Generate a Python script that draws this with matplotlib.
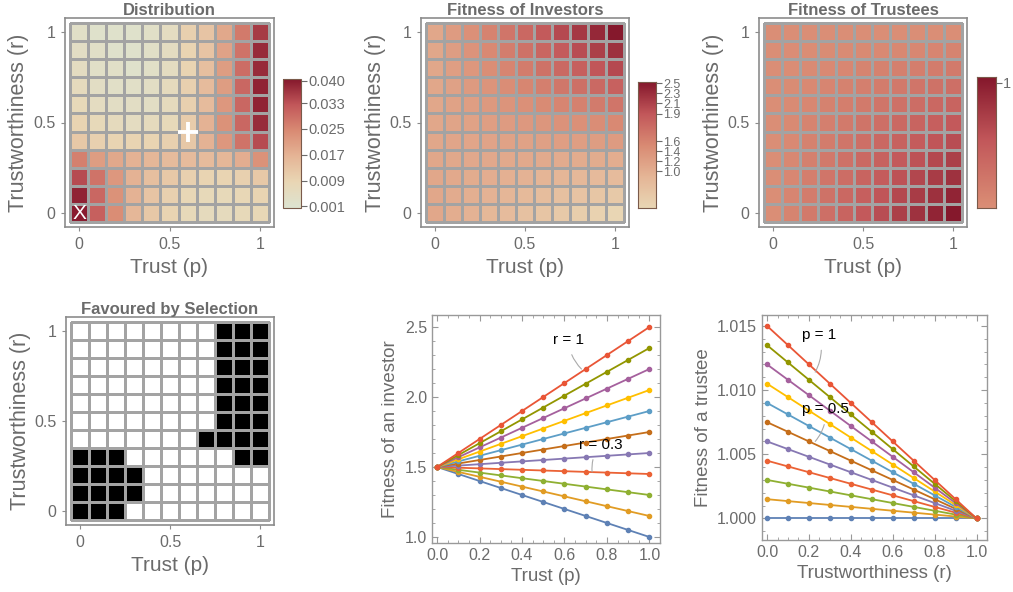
import numpy as np
import matplotlib
matplotlib.use("Agg")
import matplotlib.pyplot as plt
from matplotlib.colors import LinearSegmentedColormap, Normalize, ListedColormap

plt.rcParams['font.family'] = ['Liberation Sans', 'DejaVu Sans']

# grid of strategies
p_vals = [0.0, 0.1, 0.2, 0.3, 0.4, 0.5, 0.6, 0.7, 0.8, 0.9, 1.0]
r_vals = [0.0, 0.1, 0.2, 0.3, 0.4, 0.5, 0.6, 0.7, 0.8, 0.9, 1.0]

# distribution, rows r = 0 .. 1, columns p = 0 .. 1
dist = [
    [0.040, 0.031, 0.024, 0.016, 0.012, 0.009, 0.007, 0.006, 0.006, 0.007, 0.008],
    [0.039, 0.030, 0.023, 0.017, 0.013, 0.010, 0.008, 0.007, 0.007, 0.008, 0.009],
    [0.034, 0.028, 0.022, 0.017, 0.014, 0.012, 0.010, 0.009, 0.009, 0.010, 0.012],
    [0.026, 0.021, 0.019, 0.017, 0.016, 0.015, 0.015, 0.015, 0.016, 0.018, 0.023],
    [0.012, 0.010, 0.009, 0.009, 0.009, 0.010, 0.012, 0.017, 0.022, 0.028, 0.034],
    [0.009, 0.007, 0.006, 0.005, 0.006, 0.007, 0.011, 0.017, 0.023, 0.030, 0.038],
    [0.007, 0.005, 0.004, 0.004, 0.004, 0.006, 0.010, 0.015, 0.022, 0.030, 0.039],
    [0.006, 0.004, 0.003, 0.003, 0.004, 0.006, 0.010, 0.015, 0.021, 0.030, 0.039],
    [0.005, 0.003, 0.003, 0.002, 0.003, 0.005, 0.009, 0.014, 0.021, 0.029, 0.038],
    [0.004, 0.003, 0.002, 0.002, 0.003, 0.005, 0.009, 0.013, 0.020, 0.028, 0.038],
    [0.003, 0.002, 0.002, 0.002, 0.003, 0.005, 0.010, 0.013, 0.019, 0.027, 0.036],
]
dist_ticks = [0.001, 0.009, 0.017, 0.025, 0.033, 0.040]
dist_tick_labels = ['0.001', '0.009', '0.017', '0.025', '0.033', '0.040']
start_point = (0.0, 0.0)      # X
mean_point = (0.6, 0.45)      # +

# favoured by selection, rows r = 0 .. 1, columns p = 0 .. 1
favoured = [
    [1, 1, 1, 0, 0, 0, 0, 0, 0, 0, 0],
    [1, 1, 1, 1, 0, 0, 0, 0, 0, 0, 0],
    [1, 1, 1, 1, 0, 0, 0, 0, 0, 0, 0],
    [1, 1, 1, 0, 0, 0, 0, 0, 0, 1, 1],
    [0, 0, 0, 0, 0, 0, 0, 1, 1, 1, 1],
    [0, 0, 0, 0, 0, 0, 0, 0, 1, 1, 1],
    [0, 0, 0, 0, 0, 0, 0, 0, 1, 1, 1],
    [0, 0, 0, 0, 0, 0, 0, 0, 1, 1, 1],
    [0, 0, 0, 0, 0, 0, 0, 0, 1, 1, 1],
    [0, 0, 0, 0, 0, 0, 0, 0, 1, 1, 1],
    [0, 0, 0, 0, 0, 0, 0, 0, 1, 1, 1],
]

# investor fitness, rows r = 0 .. 1, columns p = 0 .. 1
investor_fit = [
    [1.5, 1.45, 1.4, 1.35, 1.3, 1.25, 1.2, 1.15, 1.1, 1.05, 1.0],
    [1.5, 1.465, 1.43, 1.395, 1.36, 1.325, 1.29, 1.255, 1.22, 1.185, 1.15],
    [1.5, 1.48, 1.46, 1.44, 1.42, 1.4, 1.38, 1.36, 1.34, 1.32, 1.3],
    [1.5, 1.495, 1.49, 1.485, 1.48, 1.475, 1.47, 1.465, 1.46, 1.455, 1.45],
    [1.5, 1.51, 1.52, 1.53, 1.54, 1.55, 1.56, 1.57, 1.58, 1.59, 1.6],
    [1.5, 1.525, 1.55, 1.575, 1.6, 1.625, 1.65, 1.675, 1.7, 1.725, 1.75],
    [1.5, 1.54, 1.58, 1.62, 1.66, 1.7, 1.74, 1.78, 1.82, 1.86, 1.9],
    [1.5, 1.555, 1.61, 1.665, 1.72, 1.775, 1.83, 1.885, 1.94, 1.995, 2.05],
    [1.5, 1.57, 1.64, 1.71, 1.78, 1.85, 1.92, 1.99, 2.06, 2.13, 2.2],
    [1.5, 1.585, 1.67, 1.755, 1.84, 1.925, 2.01, 2.095, 2.18, 2.265, 2.35],
    [1.5, 1.6, 1.7, 1.8, 1.9, 2.0, 2.1, 2.2, 2.3, 2.4, 2.5],
]
inv_cbar_labels = ['1.0', '1.2', '1.4', '1.6', '1.9', '2.1', '2.3', '2.5']
inv_cbar_pos = [0.29, 0.37, 0.45, 0.53, 0.75, 0.83, 0.91, 0.99]

# trustee fitness, rows p = 0 .. 1, columns r = 0 .. 1
trustee_fit = [
    [1.0, 1.0, 1.0, 1.0, 1.0, 1.0, 1.0, 1.0, 1.0, 1.0, 1.0],
    [1.0015, 1.00135, 1.0012, 1.00105, 1.0009, 1.00075, 1.0006, 1.00045, 1.0003, 1.00015, 1.0],
    [1.003, 1.0027, 1.0024, 1.0021, 1.0018, 1.0015, 1.0012, 1.0009, 1.0006, 1.0003, 1.0],
    [1.0045, 1.00405, 1.0036, 1.00315, 1.0027, 1.00225, 1.0018, 1.00135, 1.0009, 1.00045, 1.0],
    [1.006, 1.0054, 1.0048, 1.0042, 1.0036, 1.003, 1.0024, 1.0018, 1.0012, 1.0006, 1.0],
    [1.0075, 1.00675, 1.006, 1.00525, 1.0045, 1.00375, 1.003, 1.00225, 1.0015, 1.00075, 1.0],
    [1.009, 1.0081, 1.0072, 1.0063, 1.0054, 1.0045, 1.0036, 1.0027, 1.0018, 1.0009, 1.0],
    [1.0105, 1.00945, 1.0084, 1.00735, 1.0063, 1.00525, 1.0042, 1.00315, 1.0021, 1.00105, 1.0],
    [1.012, 1.0108, 1.0096, 1.0084, 1.0072, 1.006, 1.0048, 1.0036, 1.0024, 1.0012, 1.0],
    [1.0135, 1.01215, 1.0108, 1.00945, 1.0081, 1.00675, 1.0054, 1.00405, 1.0027, 1.00135, 1.0],
    [1.015, 1.0135, 1.012, 1.0105, 1.009, 1.0075, 1.006, 1.0045, 1.003, 1.0015, 1.0],
]

line_colors = ['#5E81B5', '#E19C24', '#8FB032', '#EB6235', '#8778B3', '#C56E1A',
               '#5D9EC7', '#FFBF00', '#A5609D', '#929600', '#E95536']

GRAY_TXT = '#6b6b6b'
FRAME = '#8c8c8c'
CELL_EDGE = '#a3a3a3'

base_cmap = LinearSegmentedColormap.from_list(
    'dist', ['#dde3d0', '#e9d6b4', '#e5b596', '#d98a73', '#c2575a', '#85182c'])


def sub_cmap(cmap, lo, hi):
    return ListedColormap(cmap(np.linspace(lo, hi, 256)))


inv_cmap = sub_cmap(base_cmap, 0.2, 1.0)
tru_cmap = sub_cmap(base_cmap, 0.58, 1.0)

W, H = 1013, 592
fig = plt.figure(figsize=(W / 100, H / 100), dpi=100)


def fig_axes(x0, y0, x1, y1):
    return fig.add_axes([x0 / W, 1 - y1 / H, (x1 - x0) / W, (y1 - y0) / H])


edges = np.append(np.array(p_vals) - 0.05, 1.05)


def heat_axes(ax, title):
    ax.set_xlim(-0.078, 1.078)
    ax.set_ylim(-0.075, 1.075)
    ax.set_xticks([0, 0.5, 1])
    ax.set_xticklabels(['0', '0.5', '1'])
    ax.set_yticks([0, 0.5, 1])
    ax.set_yticklabels(['0', '0.5', '1'])
    ax.tick_params(length=3, width=0.8, color=FRAME, labelcolor=GRAY_TXT,
                   labelsize=11.5, pad=4)
    for s in ax.spines.values():
        s.set_color(FRAME)
        s.set_linewidth(1.2)
    ax.set_title(title, fontsize=12, fontweight='bold', color=GRAY_TXT, pad=2)
    ax.set_xlabel('Trust (p)', fontsize=15, color=GRAY_TXT)
    ax.set_ylabel('Trustworthiness (r)', fontsize=15.5, color=GRAY_TXT)
    ax.xaxis.set_label_coords(0.5, -0.15)
    ax.yaxis.set_label_coords(-0.17, 0.5)


def manual_cbar(cax, cmap, pos, labels, size):
    grad = np.linspace(0, 1, 256).reshape(-1, 1)
    cax.imshow(grad, extent=[0, 1, 0, 1], origin='lower', aspect='auto', cmap=cmap)
    cax.set_xticks([])
    cax.yaxis.tick_right()
    cax.set_yticks(pos)
    cax.set_yticklabels(labels)
    cax.tick_params(length=4, width=0.8, color=GRAY_TXT, labelcolor=GRAY_TXT,
                    labelsize=size, pad=1)
    for s in cax.spines.values():
        s.set_color('#7a5a4a')
        s.set_linewidth(0.8)


# --- Distribution
ax1 = fig_axes(65, 18, 274, 227)
norm_d = Normalize(0.0005, 0.0405)
m1 = ax1.pcolormesh(edges, edges, np.array(dist), cmap=base_cmap, norm=norm_d,
                    edgecolors=CELL_EDGE, linewidth=1.0)
ax1.text(start_point[0], start_point[1], 'X', color='white', fontsize=15,
         ha='center', va='center')
ax1.plot(mean_point[0], mean_point[1], marker='+', color='white', markersize=14,
         mew=2.8)
heat_axes(ax1, 'Distribution')
cax1 = fig_axes(283, 79, 301, 208)
cb1 = fig.colorbar(m1, cax=cax1, ticks=dist_ticks)
cb1.ax.set_yticklabels(dist_tick_labels)
cb1.ax.tick_params(length=4, width=0.8, color=GRAY_TXT, labelcolor=GRAY_TXT,
                   labelsize=10.5, pad=1)
cb1.outline.set_edgecolor('#7a5a4a')
cb1.outline.set_linewidth(0.8)

# --- Fitness of investors
ax2 = fig_axes(421, 18, 629, 227)
ax2.pcolormesh(edges, edges, np.array(investor_fit), cmap=inv_cmap,
               edgecolors=CELL_EDGE, linewidth=1.0)
heat_axes(ax2, 'Fitness of Investors')
cax2 = fig_axes(638, 82, 656, 208)
manual_cbar(cax2, inv_cmap, inv_cbar_pos, inv_cbar_labels, 9)

# --- Fitness of trustees (x = p, y = r)
ax3 = fig_axes(759, 18, 967, 227)
ax3.pcolormesh(edges, edges, np.array(trustee_fit).T, cmap=tru_cmap,
               edgecolors=CELL_EDGE, linewidth=1.0)
heat_axes(ax3, 'Fitness of Trustees')
cax3 = fig_axes(977, 77, 996, 208)
manual_cbar(cax3, tru_cmap, [0.955], ['1'], 10.5)

# --- Favoured by selection
ax4 = fig_axes(66, 317, 274, 525)
ax4.pcolormesh(edges, edges, np.array(favoured), cmap=ListedColormap(['white', 'black']),
               edgecolors=CELL_EDGE, linewidth=1.0)
heat_axes(ax4, 'Favoured by Selection')


def line_axes(ax):
    ax.set_xlim(-0.024, 1.05)
    ax.set_xticks([0, 0.2, 0.4, 0.6, 0.8, 1.0])
    ax.set_xticks(np.arange(0, 1.01, 0.05), minor=True)
    ax.tick_params(which='both', direction='in', top=True, right=True,
                   color='#999999', labelcolor=GRAY_TXT, labelsize=11.5)
    ax.tick_params(which='major', length=4, width=0.8)
    ax.tick_params(which='minor', length=2, width=0.6)
    for s in ax.spines.values():
        s.set_color('#999999')
        s.set_linewidth(1.0)


# --- Investor lines
ax5 = fig_axes(432, 315, 660, 543)
for i, r in enumerate(r_vals):
    ax5.plot(p_vals, investor_fit[i], color=line_colors[i], lw=1.3,
             marker='o', markersize=3)
line_axes(ax5)
ax5.set_ylim(0.957, 2.586)
ax5.set_yticks([1.0, 1.5, 2.0, 2.5])
ax5.set_yticks(np.arange(1.0, 2.51, 0.1), minor=True)
ax5.set_xlabel('Trust (p)', fontsize=13.5, color=GRAY_TXT, labelpad=4)
ax5.set_ylabel('Fitness of an investor', fontsize=13.5, color=GRAY_TXT, labelpad=4)
ax5.annotate('r = 1', xy=(0.68, 2.2), xytext=(0.62, 2.41), fontsize=11,
             ha='center', va='center',
             arrowprops=dict(arrowstyle='-', color='#aaaaaa', lw=0.8,
                             connectionstyle='arc3,rad=0.2', shrinkA=4, shrinkB=0))
ax5.annotate('r = 0.3', xy=(0.73, 1.465), xytext=(0.77, 1.66), fontsize=11,
             ha='center', va='center',
             arrowprops=dict(arrowstyle='-', color='#aaaaaa', lw=0.8,
                             connectionstyle='arc3,rad=0.2', shrinkA=4, shrinkB=0))

# --- Trustee lines
ax6 = fig_axes(762, 315, 987, 540)
for i, p in enumerate(p_vals):
    ax6.plot(r_vals, trustee_fit[i], color=line_colors[i], lw=1.3,
             marker='o', markersize=3)
line_axes(ax6)
ax6.set_ylim(0.99832, 1.01585)
ax6.set_yticks([1.000, 1.005, 1.010, 1.015])
ax6.set_yticklabels(['1.000', '1.005', '1.010', '1.015'])
ax6.set_yticks(np.arange(0.999, 1.0155, 0.001), minor=True)
ax6.set_xlabel('Trustworthiness (r)', fontsize=13.5, color=GRAY_TXT, labelpad=4)
ax6.set_ylabel('Fitness of a trustee', fontsize=13.5, color=GRAY_TXT, labelpad=4)
ax6.annotate('p = 1', xy=(0.23, 1.0114), xytext=(0.25, 1.0143), fontsize=11,
             ha='center', va='center',
             arrowprops=dict(arrowstyle='-', color='#aaaaaa', lw=0.8,
                             connectionstyle='arc3,rad=-0.2', shrinkA=4, shrinkB=0))
ax6.annotate('p = 0.5', xy=(0.23, 1.006), xytext=(0.28, 1.0085), fontsize=11,
             ha='center', va='center',
             arrowprops=dict(arrowstyle='-', color='#aaaaaa', lw=0.8,
                             connectionstyle='arc3,rad=-0.2', shrinkA=4, shrinkB=0))

fig.savefig('out.png', dpi=100)
